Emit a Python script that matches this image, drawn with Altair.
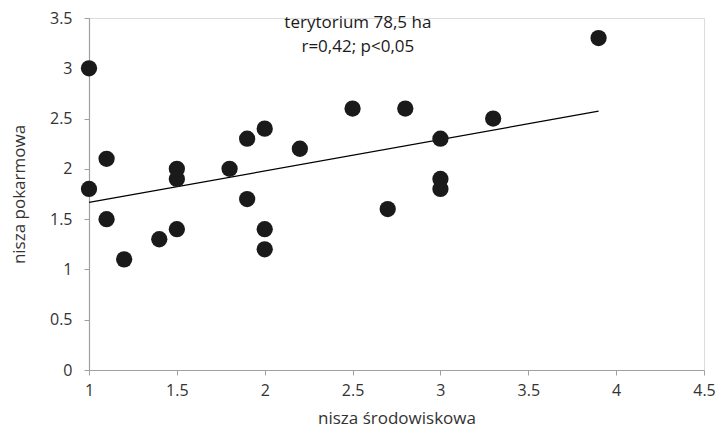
import altair as alt
import pandas as pd

x_vals = [1, 1, 1.1, 1.1, 1.2, 1.4, 1.5, 1.5, 1.5, 1.8, 1.9, 1.9, 2, 2, 2, 2.2, 2.5, 2.7, 2.8, 3, 3, 3, 3.3, 3.9]
y_vals = [3.0, 1.8, 2.1, 1.5, 1.1, 1.3, 2.0, 1.9, 1.4, 2.0, 2.3, 1.7, 2.4, 1.4, 1.2, 2.2, 2.6, 1.6, 2.6, 2.3, 1.9, 1.8, 2.5, 3.3]
x_ticks = [1, 1.5, 2, 2.5, 3, 3.5, 4, 4.5]
y_ticks = [0, 0.5, 1, 1.5, 2, 2.5, 3, 3.5]
note_lines = ["terytorium 78,5 ha", "r=0,42; p<0,05"]
note_x = [2.53, 2.53]
note_y = [3.45, 3.21]

FONT = "Open Sans"
FS = 16
TFS = 17
df = pd.DataFrame({"x": x_vals, "y": y_vals})
notes = pd.DataFrame({"x": note_x, "y": note_y, "t": note_lines})

xs = alt.Scale(domain=[1, 4.5], nice=False, zero=False)
ys = alt.Scale(domain=[0, 3.5], nice=False, zero=False)

common = dict(grid=False, format="~g", domainColor="#a0a0a0", tickColor="#a0a0a0",
              tickSize=5, tickWidth=1, domainWidth=1.2, ticks=True,
              labelFontSize=FS, labelColor="#333333", labelFont=FONT,
              titleFont=FONT, titleFontSize=TFS, titleFontWeight="normal",
              titleColor="#333333", labelFlush=False)

xaxis = alt.Axis(values=x_ticks, title="nisza środowiskowa", labelPadding=7,
                 titlePadding=12, **common)
yaxis = alt.Axis(values=y_ticks, title="nisza pokarmowa", labelPadding=12,
                 titlePadding=21, **common)

points = alt.Chart(df).mark_circle(size=265, opacity=1, color="#1a1a1a").encode(
    x=alt.X("x:Q", scale=xs, axis=xaxis),
    y=alt.Y("y:Q", scale=ys, axis=yaxis),
)

trend = alt.Chart(df).transform_regression("x", "y").mark_line(
    color="#000000", strokeWidth=1.3
).encode(x=alt.X("x:Q", scale=xs), y=alt.Y("y:Q", scale=ys))

text = alt.Chart(notes).mark_text(font=FONT, fontSize=17, color="#1a1a1a", align="center").encode(
    x=alt.X("x:Q", scale=xs), y=alt.Y("y:Q", scale=ys), text="t:N"
)

chart = alt.layer(trend, points, text).properties(
    width=615, height=352,
    autosize=alt.AutoSizeParams(type="none"),
    padding={"left": 81, "top": 10, "right": 12, "bottom": 57},
).configure_view(stroke=None).configure(background="white")

chart.save("out.html", embed_options={"renderer": "svg", "actions": False})
